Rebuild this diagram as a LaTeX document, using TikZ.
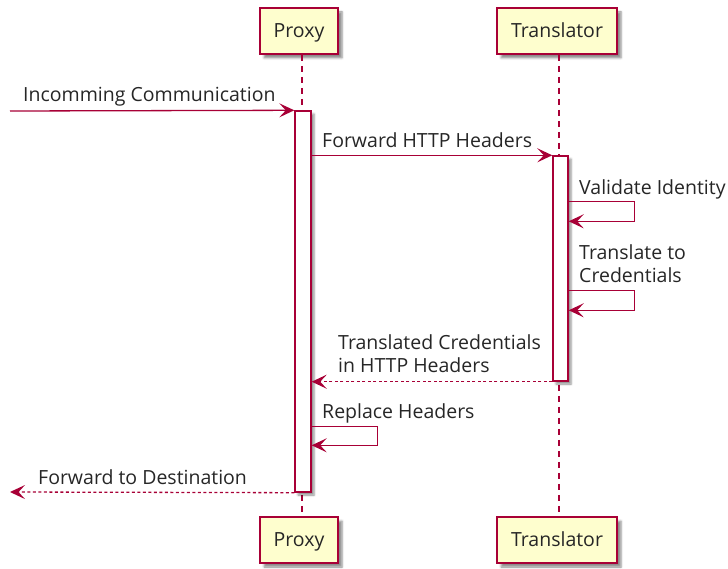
\documentclass[tikz,border=0pt]{standalone}
\usepackage{fontspec}
\setmainfont{Open Sans}
\usetikzlibrary{arrows.meta,shadows.blur}
\definecolor{pborder}{HTML}{A80036}
\definecolor{pfill}{HTML}{FEFECE}
\begin{document}
\begin{tikzpicture}[x=1pt,y=-1pt,
  every node/.style={font=\fontsize{19.5}{23}\selectfont, text=black!85},
  participant/.style={draw=pborder, fill=pfill, line width=1.8pt, inner sep=0pt,
    minimum height=46pt, text height=13pt, text depth=0pt,
    blur shadow={shadow xshift=4pt, shadow yshift=-4pt, shadow blur steps=5, shadow opacity=45}},
  act/.style={draw=pborder, fill=white, line width=1.4pt, inner sep=0pt,
    blur shadow={shadow xshift=3pt, shadow yshift=-3pt, shadow blur steps=4, shadow opacity=45}},
  lifeline/.style={draw=pborder, line width=1.4pt, dash pattern=on 6pt off 5pt},
  msg/.style={draw=pborder, line width=1.3pt, -{Stealth[length=15pt, width=14pt, inset=6.5pt]}},
  reply/.style={msg, dash pattern=on 3pt off 2.5pt},
  lbl/.style={anchor=base west, inner sep=0pt, align=left}
]
\useasboundingbox (0,0) rectangle (728,569);
% participants
\node[participant, minimum width=78pt] (pt) at (299,31) {Proxy};
\node[participant, minimum width=120pt] (tt) at (557,31) {Translator};
\node[participant, minimum width=78pt] (pb) at (299,540) {Proxy};
\node[participant, minimum width=120pt] (tb) at (557,540) {Translator};
% lifelines
\draw[lifeline] ([xshift=3pt]pt.south) -- ([xshift=3pt]pb.north);
\draw[lifeline] ([xshift=2pt]tt.south) -- ([xshift=2pt]tb.north);
% activations
\node[act, minimum width=16pt, minimum height=381pt] (pa) at (303,301.5) {};
\node[act, minimum width=15pt, minimum height=225pt] (ta) at (560.5,268.5) {};
% messages
\coordinate (m1s) at (10,111);
\draw[msg] (m1s) -- (pa.north west);
\node[lbl] (l1) at (23,102) {Incomming Communication};

\draw[msg] (pa.east |- ta.north) -- (ta.north west);
\node[lbl] (l2) at (322,148) {Forward HTTP Headers};

\draw[msg] (ta.north east) ++(0,46) -- ++(66,0) -- ++(0,20) -- ++(-66,0);
\node[lbl] (l3) at (579,195) {Validate Identity};

\draw[msg] (ta.north east) ++(0,135) -- ++(66,0) -- ++(0,20) -- ++(-66,0);
\node[lbl] (l4) at (579,283) {Translate to\\Credentials};

\draw[reply] (ta.south west) -- (pa.east |- ta.south);
\node[lbl] (l5) at (338,372) {Translated Credentials\\in HTTP Headers};

\draw[msg] (pa.north east) ++(0,316) -- ++(66,0) -- ++(0,19) -- ++(-66,0);
\node[lbl] (l6) at (322,418) {Replace Headers};

\coordinate (m7e) at (10,492);
\draw[reply] (pa.south west) -- (m7e);
\node[lbl] (l7) at (38,484) {Forward to Destination};
\end{tikzpicture}
\end{document}
